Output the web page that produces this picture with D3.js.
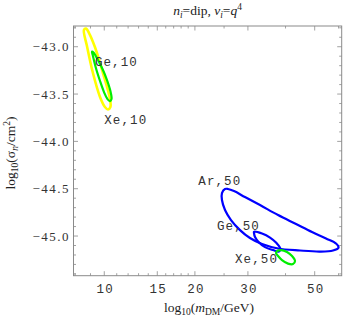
<!DOCTYPE html>
<html><head><meta charset="utf-8">
<script src="https://cdn.jsdelivr.net/npm/d3@7"></script>
<style>
body{margin:0;background:#fff;}
svg{display:block;}
.mono{font-family:"Liberation Mono","Courier New",monospace;}
.serif{font-family:"Liberation Serif","Times New Roman",serif;}
</style></head>
<body>
<svg id="c" width="346" height="319"></svg>
<script>
// ---- data (x: m_DM in GeV, y: log10 sigma_n) ----
const xTickValues = [10, 15, 20, 30, 50];
const xTickLabels = ["10", "15", "20", "30", "50"];
const xMinorTicks = [8, 9, 11, 12, 13, 14, 16, 17, 18, 19, 25, 40, 60];
const yTickValues = [-45.0, -44.5, -44.0, -43.5, -43.0];
const yTickLabels = ["\u221245.0", "\u221244.5", "\u221244.0", "\u221243.5", "\u221243.0"];

const xe10 = [[8.56,-42.824],[8.76,-42.993],[9.17,-43.278],[9.68,-43.531],[10.05,-43.637],[10.29,-43.663],[10.48,-43.637],[10.45,-43.553],[9.90,-43.278],[9.31,-43.003],[8.90,-42.855],[8.69,-42.808]];
const ge10 = [[9.10,-43.051],[9.17,-43.098],[9.38,-43.225],[9.68,-43.362],[9.98,-43.479],[10.25,-43.553],[10.45,-43.574],[10.57,-43.553],[10.48,-43.468],[10.21,-43.352],[9.90,-43.246],[9.53,-43.141],[9.21,-43.061]];
const ar50 = [[25.18,-44.503],[24.60,-44.546],[24.60,-44.619],[25.18,-44.725],[26.36,-44.831],[28.24,-44.937],[30.48,-45.021],[33.42,-45.085],[37.78,-45.132],[44.69,-45.153],[52.07,-45.164],[57.51,-45.153],[59.99,-45.122],[58.85,-45.079],[54.52,-45.026],[48.98,-44.958],[43.35,-44.873],[37.78,-44.778],[32.91,-44.673],[29.33,-44.588],[26.97,-44.525],[25.76,-44.503]];
const ge50 = [[31.43,-44.955],[33.42,-44.974],[35.53,-45.016],[37.34,-45.074],[38.50,-45.137],[38.06,-45.164],[36.36,-45.148],[34.20,-45.117],[32.53,-45.063],[31.68,-45.011],[31.43,-44.968]];
const xe50 = [[37.49,-45.159],[38.65,-45.148],[40.46,-45.169],[42.04,-45.211],[43.01,-45.264],[42.36,-45.296],[40.77,-45.291],[38.94,-45.254],[37.78,-45.211],[37.20,-45.180]];

const curveNames = ["Xe,10", "Ge,10", "Ar,50", "Ge,50", "Xe,50"];
const curveData = [xe10, ge10, ar50, ge50, xe50];
const curveColors = ["#ffff00", "#00ee00", "#0000ff", "#0000ff", "#00ee00"];
const labelTexts = ["Ge,10", "Xe,10", "Ar,50", "Ge,50", "Xe,50"];
const labelX = [9.31, 10.0, 20.53, 23.68, 27.18];
const labelY = [-43.158, -43.774, -44.419, -44.889, -45.240];

// ---- layout ----
const L = 73.5, R = 341.7, T = 26, B = 275.7;
const svg = d3.select("#c");
const x = d3.scaleLog().domain([7.903, 61.47]).range([L, R]);
const y = d3.scaleLinear().domain([-45.419, -42.781]).range([B, T]);

// frame
svg.append("rect").attr("x", L).attr("y", T).attr("width", R - L).attr("height", B - T)
  .attr("fill", "none").attr("stroke", "#8a8a8a").attr("stroke-width", 1);

const tickCol = "#8a8a8a";
const xt = svg.append("g").attr("stroke", tickCol).attr("stroke-width", 0.8);
xTickValues.forEach(v => {
  xt.append("line").attr("x1", x(v)).attr("x2", x(v)).attr("y1", B).attr("y2", B - 4.5);
  xt.append("line").attr("x1", x(v)).attr("x2", x(v)).attr("y1", T).attr("y2", T + 4.5);
});
xMinorTicks.filter(v => x(v) > L + 1 && x(v) < R - 1).forEach(v => {
  xt.append("line").attr("x1", x(v)).attr("x2", x(v)).attr("y1", B).attr("y2", B - 2.5);
  xt.append("line").attr("x1", x(v)).attr("x2", x(v)).attr("y1", T).attr("y2", T + 2.5);
});
const yMinor = d3.range(-45.4, -42.75, 0.1).map(v => Math.round(v * 10) / 10);
yMinor.forEach(v => {
  const major = yTickValues.some(t => Math.abs(t - v) < 1e-6);
  const len = major ? 4.5 : 2.5;
  xt.append("line").attr("x1", L).attr("x2", L + len).attr("y1", y(v)).attr("y2", y(v));
  xt.append("line").attr("x1", R).attr("x2", R - len).attr("y1", y(v)).attr("y2", y(v));
});

// tick labels
xTickValues.forEach((v, i) => {
  svg.append("text").attr("class", "mono").attr("x", x(v) + 1).attr("y", 292.5)
    .attr("text-anchor", "middle").attr("font-size", 12.5).attr("letter-spacing", 1.2)
    .attr("fill", "#333").text(xTickLabels[i]);
});
yTickValues.forEach((v, i) => {
  svg.append("text").attr("class", "serif").attr("x", 70).attr("y", y(v)).attr("dy", "0.35em")
    .attr("text-anchor", "end").attr("font-size", 13).attr("letter-spacing", 1.5)
    .attr("fill", "#333").text(yTickLabels[i]);
});

// curves
const line = d3.line().x(d => x(d[0])).y(d => y(d[1])).curve(d3.curveCatmullRomClosed.alpha(0.5));
curveData.forEach((d, i) => {
  svg.append("path").attr("d", line(d)).attr("fill", "none")
    .attr("stroke", curveColors[i]).attr("stroke-width", i === 0 ? 2.6 : 2.2)
    .attr("stroke-linejoin", "round").attr("data-name", curveNames[i]);
});

// contour labels
labelTexts.forEach((t, i) => {
  svg.append("text").attr("class", "mono").attr("x", x(labelX[i])).attr("y", y(labelY[i]))
    .attr("dy", "0.35em").attr("font-size", 12.5).attr("letter-spacing", 1.1)
    .attr("fill", "#333").text(t);
});

// title
const title = svg.append("text").attr("class", "serif").attr("x", 207.6).attr("y", 15)
  .attr("text-anchor", "middle").attr("font-size", 13.5).attr("fill", "#222");
title.append("tspan").attr("font-style", "italic").text("n");
title.append("tspan").attr("font-style", "italic").attr("font-size", 9.5).attr("dy", 2.5).text("i");
title.append("tspan").attr("dy", -2.5).text("=dip, ");
title.append("tspan").attr("font-style", "italic").text("\u03bd");
title.append("tspan").attr("font-style", "italic").attr("font-size", 9.5).attr("dy", 2.5).text("i");
title.append("tspan").attr("dy", -2.5).text("=");
title.append("tspan").attr("font-style", "italic").text("q");
title.append("tspan").attr("font-size", 9.5).attr("dy", -5.5).text("4");

// x axis label
const xl = svg.append("text").attr("class", "serif").attr("x", 209).attr("y", 312)
  .attr("text-anchor", "middle").attr("font-size", 13.5).attr("fill", "#222");
xl.append("tspan").text("log");
xl.append("tspan").attr("font-size", 9.5).attr("dy", 3).text("10");
xl.append("tspan").attr("dy", -3).text("(");
xl.append("tspan").attr("font-style", "italic").text("m");
xl.append("tspan").attr("font-size", 9.5).attr("dy", 3).text("DM");
xl.append("tspan").attr("dy", -3).text("/GeV)");

// y axis label
const yl = svg.append("text").attr("class", "serif")
  .attr("transform", "translate(15,153) rotate(-90)")
  .attr("text-anchor", "middle").attr("font-size", 13.5).attr("fill", "#222");
yl.append("tspan").text("log");
yl.append("tspan").attr("font-size", 9.5).attr("dy", 3).text("10");
yl.append("tspan").attr("dy", -3).text("(\u03c3");
yl.append("tspan").attr("font-style", "italic").attr("font-size", 9.5).attr("dy", 3).text("n");
yl.append("tspan").attr("dy", -3).text("/cm");
yl.append("tspan").attr("font-size", 9.5).attr("dy", -5.5).text("2");
yl.append("tspan").attr("dy", 5.5).text(")");
</script>
</body></html>
